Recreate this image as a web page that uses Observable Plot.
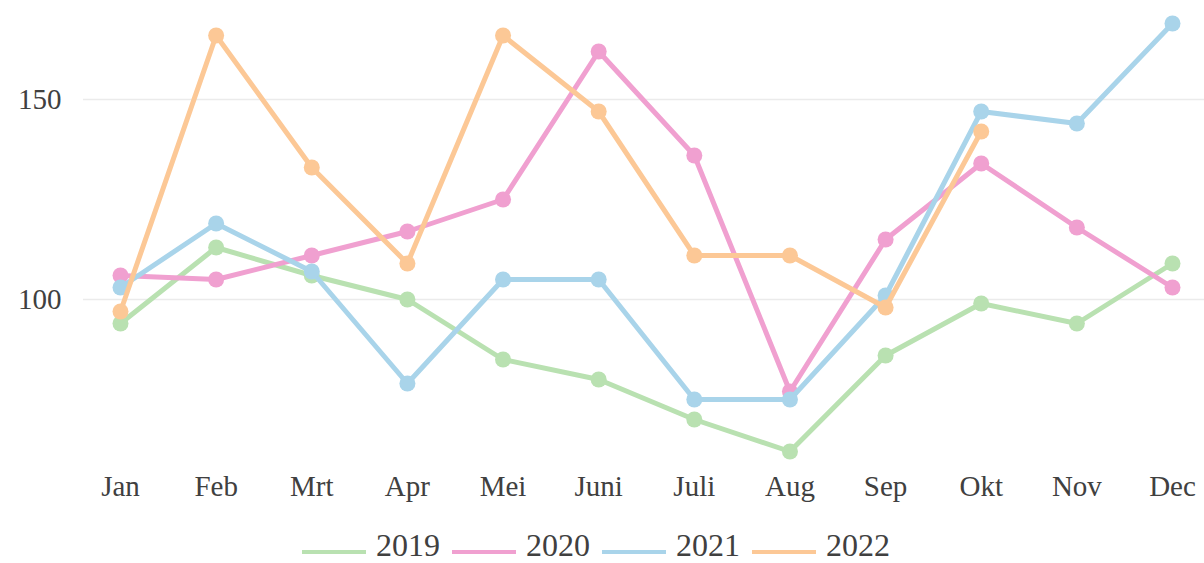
<!DOCTYPE html>
<html>
<head>
<meta charset="utf-8">
<script src="https://cdn.jsdelivr.net/npm/d3@7"></script>
<script src="https://cdn.jsdelivr.net/npm/@observablehq/plot@0.6"></script>
<style>
  html, body { margin: 0; padding: 0; background: #fff; }
  #legend {
    height: 35px; padding-top: 8px;
    display: flex; justify-content: center; align-items: center;
    font-family: "Liberation Serif", "Times New Roman", serif; font-size: 32px; color: #404040;
  }
  #legend .item { display: flex; align-items: center; margin-right: 12px; }
  #legend svg { margin-right: 10px; }
</style>
</head>
<body>
<div id="chart"></div>
<div id="legend"></div>
<script>
const months = ["Jan","Feb","Mrt","Apr","Mei","Juni","Juli","Aug","Sep","Okt","Nov","Dec"];
const years = ["2019","2020","2021","2022"];
const colors = ["#b9e1b1","#f0a0d0","#a9d4ea","#fcc896"];
const v2019 = [94,113,106,100,85,80,70,62,86,99,94,109];
const v2020 = [106,105,111,117,125,162,136,77,115,134,118,103];
const v2021 = [103,119,107,79,105,105,75,75,101,147,144,169];
const v2022 = [97,166,133,109,166,147,111,111,98,142,null,null];
const yTicks = [100,150];

const series = [v2019, v2020, v2021, v2022];
const rows = [];
years.forEach((yr, i) => {
  series[i].forEach((v, j) => {
    if (v != null) rows.push({year: yr, month: months[j], value: v});
  });
});

const marks = [
  Plot.gridY(yTicks, {stroke: "#ebebeb", strokeOpacity: 1, strokeWidth: 1.5}),
  Plot.axisY({ticks: yTicks, tickSize: 0, tickPadding: 22, label: null}),
  Plot.axisX({tickSize: 0, tickPadding: 16, label: null})
];
years.forEach(yr => {
  const d = rows.filter(r => r.year === yr);
  marks.push(Plot.lineY(d, {x: "month", y: "value", stroke: "year", strokeWidth: 5}));
  marks.push(Plot.dot(d, {x: "month", y: "value", fill: "year", r: 8}));
});

const chart = Plot.plot({
  width: 1204,
  height: 520,
  marginLeft: 83,
  marginRight: 0,
  marginTop: 11,
  marginBottom: 61,
  style: {fontFamily: "'Liberation Serif', 'Times New Roman', serif", fontSize: "29px", color: "#404040", background: "#fff"},
  x: {type: "point", domain: months, padding: 0, round: false, insetLeft: 37, insetRight: 32},
  y: {domain: [60, 172]},
  color: {domain: years, range: colors},
  marks
});
document.getElementById("chart").appendChild(chart);

const legend = d3.select("#legend");
years.forEach((yr, i) => {
  const item = legend.append("div").attr("class", "item");
  const s = item.append("svg").attr("width", 64).attr("height", 30);
  s.append("line").attr("x1", 0).attr("x2", 64).attr("y1", 21).attr("y2", 21)
    .attr("stroke", colors[i]).attr("stroke-width", 4);
  item.append("span").text(yr);
});
</script>
</body>
</html>
